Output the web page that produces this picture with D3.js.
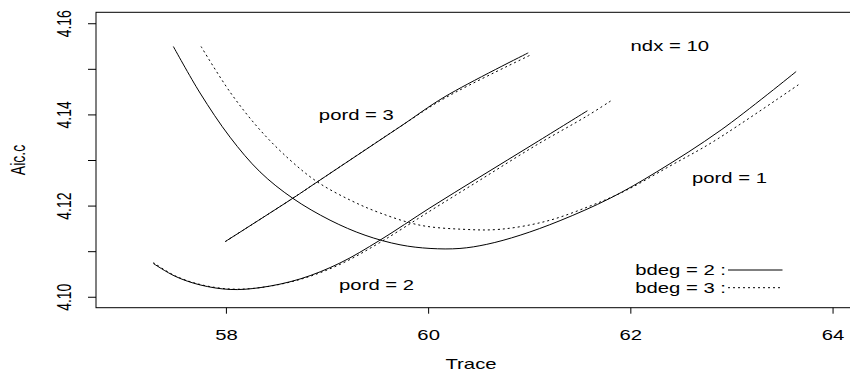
<!DOCTYPE html>
<html>
<head>
<meta charset="utf-8">
<script src="https://cdn.jsdelivr.net/npm/d3@7"></script>
<style>
  html, body { margin: 0; padding: 0; background: #fff; }
  svg { display: block; font-family: "Liberation Sans", Arial, Helvetica, sans-serif; }
</style>
</head>
<body>
<svg id="chart" width="850" height="373"></svg>
<script>
// Aic.c against trace for P-spline fits (ndx = 10), by penalty order and B-spline degree
const xTicks = [58, 60, 62, 64];
const yTicks = [4.10, 4.11, 4.12, 4.13, 4.14, 4.15, 4.16];
const yTickLabels = ["4.10", "", "4.12", "", "4.14", "", "4.16"];

// [trace, Aic.c]
const pord1_bdeg2 = [
  [57.48, 4.1549], [57.744, 4.1447], [58.041, 4.1350], [58.337, 4.1274],
  [58.661, 4.1216], [59.030, 4.1168], [59.376, 4.1135], [59.722, 4.1114],
  [60.019, 4.1106], [60.315, 4.1106], [60.580, 4.1115], [60.910, 4.1135],
  [61.305, 4.1167], [61.799, 4.1216], [62.261, 4.1274], [62.898, 4.1366],
  [63.640, 4.1494]
];
const pord1_bdeg3 = [
  [57.754, 4.1549], [58.041, 4.1449], [58.337, 4.1366], [58.634, 4.1300],
  [58.904, 4.1252], [59.229, 4.1212], [59.523, 4.1184], [59.920, 4.1157],
  [60.345, 4.1148], [60.711, 4.1148], [61.173, 4.1166], [61.601, 4.1199],
  [61.964, 4.1234], [62.393, 4.1287], [62.818, 4.1340], [63.662, 4.1465]
];
const pord2_bdeg2 = [
  [57.282, 4.1073], [57.497, 4.1045], [57.744, 4.1026], [58.041, 4.1016],
  [58.337, 4.1020], [58.733, 4.1039], [59.128, 4.1074], [59.523, 4.1124],
  [60.018, 4.1195], [60.513, 4.1263], [61.057, 4.1337], [61.575, 4.1408]
];
const pord2_bdeg3 = [
  [57.282, 4.1075], [57.497, 4.1046], [57.744, 4.1027], [58.041, 4.1017],
  [58.337, 4.1020], [58.733, 4.1038], [59.128, 4.1071], [59.523, 4.1119],
  [60.018, 4.1188], [60.513, 4.1256], [61.057, 4.1331], [61.575, 4.1397],
  [61.809, 4.1430]
];
const pord3_bdeg2 = [
  [57.993, 4.1121], [58.661, 4.1216], [58.904, 4.1252], [59.722, 4.1373],
  [60.167, 4.1439], [60.990, 4.1535]
];
const pord3_bdeg3 = [
  [57.993, 4.1121], [58.661, 4.1216], [58.904, 4.1252], [59.722, 4.1373],
  [60.167, 4.1436], [61.010, 4.1530]
];

const series = [
  { data: pord1_bdeg2, dash: null },
  { data: pord1_bdeg3, dash: "2,3" },
  { data: pord2_bdeg2, dash: null },
  { data: pord2_bdeg3, dash: "2,3" },
  { data: pord3_bdeg2, dash: null },
  { data: pord3_bdeg3, dash: "2,3" }
];

// in-plot annotations, centred at (trace, Aic.c)
const notes = [
  { text: "pord = 3", x: 59.29, y: 4.1399 },
  { text: "pord = 2", x: 59.49, y: 4.1026 },
  { text: "pord = 1", x: 62.98, y: 4.1260 },
  { text: "ndx = 10", x: 62.39, y: 4.1549 }
];
const legendLabels = ["bdeg = 2 :", "bdeg = 3 :"];
const legendDash = [null, "2,3"];

const SX = 1.45;        // horizontal glyph stretch of the device
const FONT = 14;

const svg = d3.select("#chart");
const x = d3.scaleLinear().domain([56.715, 64.41]).range([96, 874]);
const y = d3.scaleLinear().domain([4.0976, 4.1624]).range([307.7, 12.3]);

// plot frame
svg.append("rect")
  .attr("x", x.range()[0]).attr("y", y.range()[1])
  .attr("width", x.range()[1] - x.range()[0])
  .attr("height", y.range()[0] - y.range()[1])
  .attr("fill", "none").attr("stroke", "#000").attr("stroke-width", 1);

// x axis
const gx = svg.append("g").attr("transform", `translate(0,${y.range()[0]})`)
  .call(d3.axisBottom(x).tickValues(xTicks).tickSize(6).tickSizeOuter(0).tickFormat(d3.format("d")));
gx.select(".domain").remove();
gx.selectAll(".tick line").attr("stroke", "#000");
gx.selectAll(".tick text")
  .attr("y", null).attr("dy", null)
  .attr("font-size", FONT).attr("font-family", "Liberation Sans, Arial, sans-serif")
  .attr("fill", "#000")
  .attr("text-anchor", "middle")
  .attr("transform", `translate(0,32) scale(${SX},1)`);

// y axis
const gy = svg.append("g").attr("transform", `translate(${x.range()[0]},0)`)
  .call(d3.axisLeft(y).tickValues(yTicks).tickSize(8).tickSizeOuter(0)
    .tickFormat((d, i) => yTickLabels[i]));
gy.select(".domain").remove();
gy.selectAll(".tick line").attr("stroke", "#000");
gy.selectAll(".tick text")
  .attr("x", null).attr("dy", "0.35em")
  .attr("font-size", FONT).attr("font-family", "Liberation Sans, Arial, sans-serif")
  .attr("fill", "#000")
  .attr("text-anchor", "middle")
  .attr("transform", `translate(-32,0) scale(${SX},1) rotate(-90)`);

// axis titles
svg.append("text")
  .attr("transform", `translate(471,364) scale(${SX},1)`)
  .attr("dy", "0.35em").attr("text-anchor", "middle")
  .attr("font-size", FONT).text("Trace");
svg.append("text")
  .attr("transform", `translate(17.5,${(y.range()[0] + y.range()[1]) / 2}) scale(${SX},1) rotate(-90)`)
  .attr("dy", "0.35em").attr("text-anchor", "middle")
  .attr("font-size", FONT).text("Aic.c");

// curves
const line = d3.line()
  .x(d => x(d[0])).y(d => y(d[1]))
  .curve(d3.curveCatmullRom.alpha(0.5));

svg.append("g").selectAll("path")
  .data(series).join("path")
  .attr("d", s => line(s.data))
  .attr("fill", "none").attr("stroke", "#000").attr("stroke-width", 1)
  .attr("stroke-dasharray", s => s.dash);

// annotations
svg.append("g").selectAll("text")
  .data(notes).join("text")
  .attr("transform", d => `translate(${x(d.x)},${y(d.y)}) scale(${SX},1)`)
  .attr("dy", "0.35em").attr("text-anchor", "middle")
  .attr("font-size", FONT).attr("fill", "#000")
  .text(d => d.text);

// legend
const legendX = 726, legendY0 = 270, legendStep = 17.7, legendLine = [728, 782.5];
const lg = svg.append("g");
legendLabels.forEach((lab, i) => {
  const yy = legendY0 + i * legendStep;
  lg.append("text")
    .attr("transform", `translate(${legendX},${yy}) scale(${SX},1)`)
    .attr("dy", "0.35em").attr("text-anchor", "end")
    .attr("font-size", FONT).attr("fill", "#000").text(lab);
  lg.append("line")
    .attr("x1", legendLine[0]).attr("x2", legendLine[1])
    .attr("y1", yy).attr("y2", yy)
    .attr("stroke", "#000").attr("stroke-width", 1)
    .attr("stroke-dasharray", legendDash[i]);
});
</script>
</body>
</html>
